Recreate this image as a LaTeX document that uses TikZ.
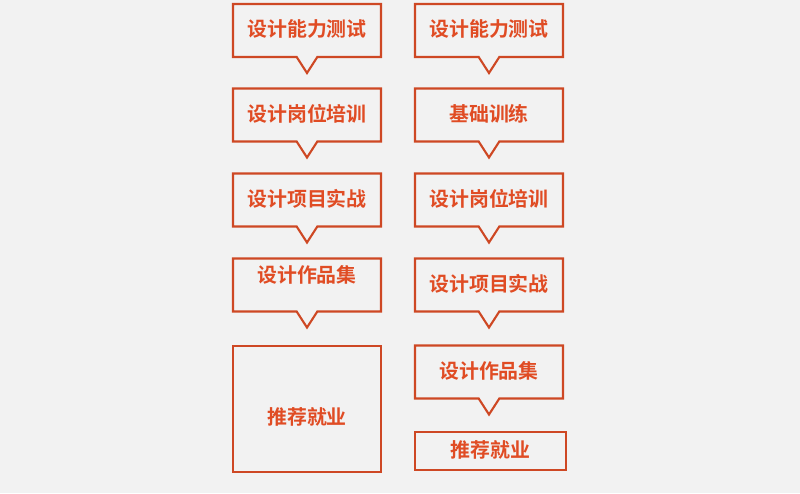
\documentclass[tikz,border=0pt]{standalone}
\usepackage{fontspec}
\newfontfamily\cjk[BoldFont={Noto Sans CJK SC Bold}]{Noto Sans CJK SC}
\usepackage{tikz}
\usetikzlibrary{shapes.callouts}
\definecolor{stageline}{RGB}{206,72,36}
\definecolor{stagetext}{RGB}{224,76,36}
\definecolor{pagebg}{RGB}{242,242,242}
\tikzset{
  stage/.style={rectangle,draw=stageline,line width=1.8pt,text=stagetext,
    minimum width=4.44cm,minimum height=1.59cm,inner sep=2pt,
    text height=13pt,text depth=2pt,
    font=\cjk\bfseries\fontsize{17}{20}\selectfont},
  talk/.style={stage,rectangle callout,callout relative pointer={(0cm,-0.48cm)},
    callout pointer width=0.62cm}
}
\newcommand{\stagebox}[4][]{\node[stage,#1] at (#2) (#3) {#4}}

\begin{document}
\begin{tikzpicture}[x=0.03cm,y=-0.03cm]
  \fill[pagebg] (0,0) rectangle (800,493);
  \useasboundingbox (0,0) rectangle (800,493);
  % left column
  \stagebox[talk]{307,30.5}{l-test} {设计能力测试};
  \stagebox[talk]{307,115} {l-train}{设计岗位培训};
  \stagebox[talk]{307,200} {l-proj} {设计项目实战};
  \stagebox[talk,text depth=17pt]{307,285}{l-works}{设计作品集};
  \stagebox[minimum height=3.78cm,text height=28pt]{307,409}{l-job}{推荐就业};
  % right column
  \stagebox[talk]{489,30.5}{r-test} {设计能力测试};
  \stagebox[talk]{489,115} {r-base} {基础训练};
  \stagebox[talk]{489,200} {r-train}{设计岗位培训};
  \stagebox[talk]{489,285} {r-proj} {设计项目实战};
  \stagebox[talk]{489,372} {r-works}{设计作品集};
  \stagebox[minimum width=4.53cm,minimum height=1.14cm]{490.5,451}{r-job}{推荐就业};
\end{tikzpicture}
\end{document}
